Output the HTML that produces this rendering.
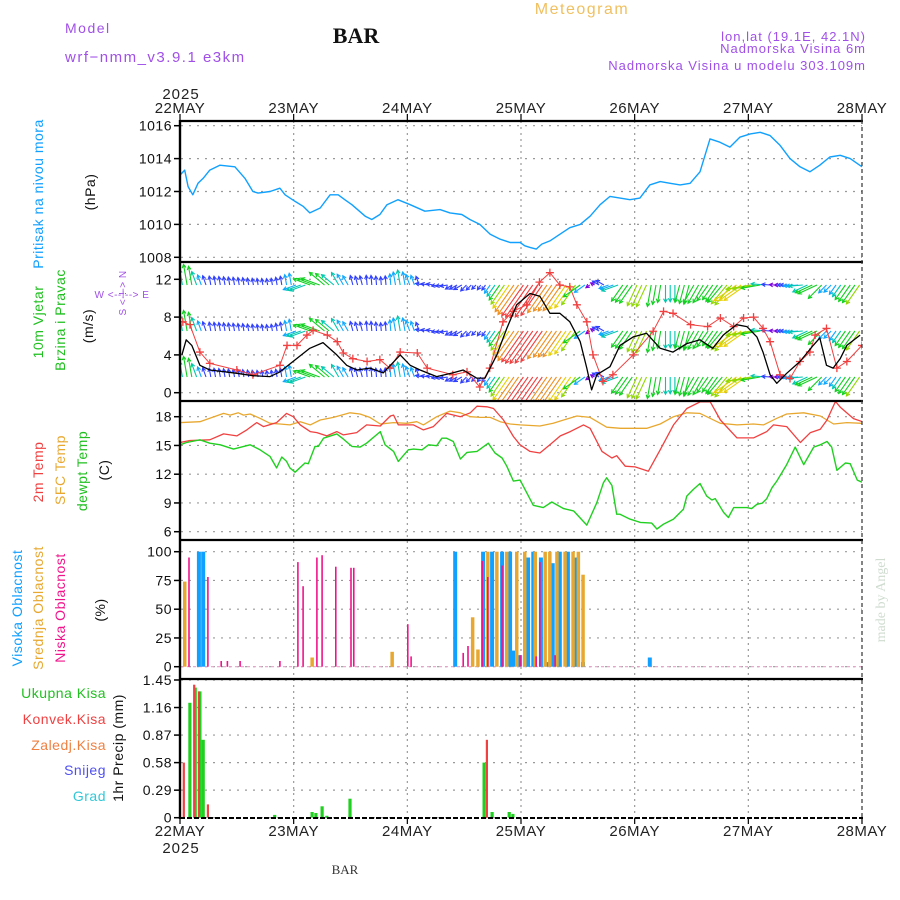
<!DOCTYPE html>
<html><head><meta charset="utf-8"><style>
html,body{margin:0;padding:0;background:#fff;}
svg{display:block;font-family:"Liberation Sans",sans-serif;}
</style></head><body>
<svg id="chart" width="900" height="900" viewBox="0 0 900 900" xmlns="http://www.w3.org/2000/svg">
<defs><clipPath id="windClip"><rect x="181" y="263" width="681" height="137"/></clipPath>
<clipPath id="tempClip"><rect x="181" y="402" width="681" height="137"/></clipPath></defs>
<text x="65" y="33" font-size="14" fill="#a050e8" letter-spacing="1.5">Model</text>
<text x="65" y="62" font-size="15" fill="#a050e8" letter-spacing="1.5">wrf−nmm_v3.9.1 e3km</text>
<text x="356" y="43" font-size="22" font-weight="bold" font-family="Liberation Serif, serif" text-anchor="middle" fill="#111">BAR</text>
<text x="582" y="14" font-size="16" fill="#f0c060" text-anchor="middle" letter-spacing="1.5">Meteogram</text>
<text x="866" y="41" font-size="13" fill="#a050e8" text-anchor="end" letter-spacing="1">lon,lat (19.1E, 42.1N)</text>
<text x="866" y="53" font-size="13" fill="#a050e8" text-anchor="end" letter-spacing="1">Nadmorska Visina 6m</text>
<text x="866" y="70" font-size="13" fill="#a050e8" text-anchor="end" letter-spacing="1">Nadmorska Visina u modelu 303.109m</text>
<text x="181" y="99" font-size="15" fill="#222" text-anchor="middle" letter-spacing="1">2025</text>
<text x="181" y="853" font-size="15" fill="#222" text-anchor="middle" letter-spacing="1">2025</text>
<text x="345" y="874" font-size="13" font-family="Liberation Serif, serif" text-anchor="middle" fill="#333">BAR</text>
<text transform="translate(885,600) rotate(-90)" font-size="14" font-family="Liberation Serif, serif" text-anchor="middle" fill="#d0dcd0">made by Angel</text>

<g font-size="14" letter-spacing="0.5">
<text transform="translate(43,194) rotate(-90)" text-anchor="middle" fill="#10a0ff">Pritisak na nivou mora</text>
<text transform="translate(95,192) rotate(-90)" text-anchor="middle" fill="#111">(hPa)</text>
<text transform="translate(43,322) rotate(-90)" text-anchor="middle" fill="#20c020">10m Vjetar</text>
<text transform="translate(65,320) rotate(-90)" text-anchor="middle" fill="#20c020">Brzina i Pravac</text>
<text transform="translate(93,326) rotate(-90)" text-anchor="middle" fill="#111">(m/s)</text>
<text transform="translate(126,293) rotate(-90)" text-anchor="middle" fill="#a050e8" font-size="10">S &lt;-!-&gt; N</text>
<text x="122" y="298" text-anchor="middle" fill="#a050e8" font-size="10">W  &lt;--!--&gt;  E</text>
<text transform="translate(43,472) rotate(-90)" text-anchor="middle" fill="#f04040">2m Temp</text>
<text transform="translate(65,470) rotate(-90)" text-anchor="middle" fill="#e8a830">SFC Temp</text>
<text transform="translate(87,471) rotate(-90)" text-anchor="middle" fill="#20c020">dewpt Temp</text>
<text transform="translate(109,470) rotate(-90)" text-anchor="middle" fill="#111">(C)</text>
<text transform="translate(22,608) rotate(-90)" text-anchor="middle" fill="#10a0ff">Visoka Oblacnost</text>
<text transform="translate(43,608) rotate(-90)" text-anchor="middle" fill="#e8a830">Srednja Oblacnost</text>
<text transform="translate(65,608) rotate(-90)" text-anchor="middle" fill="#f0148c">Niska Oblacnost</text>
<text transform="translate(105,610) rotate(-90)" text-anchor="middle" fill="#111">(%)</text>
<text x="106" y="698" text-anchor="end" fill="#20c020">Ukupna Kisa</text>
<text x="106" y="724" text-anchor="end" fill="#f04040">Konvek.Kisa</text>
<text x="106" y="750" text-anchor="end" fill="#f08040">Zaledj.Kisa</text>
<text x="106" y="775" text-anchor="end" fill="#5050f0">Snijeg</text>
<text x="106" y="801" text-anchor="end" fill="#30c8d8">Grad</text>
<text transform="translate(123,748) rotate(-90)" text-anchor="middle" fill="#111">1hr Precip (mm)</text>
</g>
<g id="plot"></g>
</svg>
<script>
// ---------- data ----------
const dayLabels = ["22MAY","23MAY","24MAY","25MAY","26MAY","27MAY","28MAY"];
const presHours = [0,1,1.7,2.7,3.8,4.9,6.3,8.4,11.6,13.7,15.4,16.5,19,21.1,22.2,24.3,26,27.4,29.6,31.7,33.4,34.8,36.3,39.1,40.5,42.2,43.7,46,48.6,51.7,54.9,57,59.5,61.2,63.3,65.5,67.6,69.7,71.8,72.8,73.9,75.2,76.4,78.1,80.2,82.3,84.5,86.6,88.7,90.8,92.9,95,97.1,99.2,101.4,103.5,105.6,107.7,109.8,111.9,114,116.1,118.2,120.4,122.5,124.6,126.7,128.8,130.9,133,135.1,137.2,139.4,141.5,144];
const presVals = [1013,1013.3,1012.3,1011.8,1012.5,1012.8,1013.3,1013.6,1013.5,1012.8,1012,1011.9,1012,1012.2,1011.8,1011.4,1011.1,1010.7,1011,1011.8,1011.8,1011.5,1011.2,1010.5,1010.3,1010.6,1011.2,1011.5,1011.2,1010.8,1010.9,1010.7,1010.6,1010.3,1010,1009.4,1009.1,1008.9,1008.9,1008.7,1008.6,1008.5,1008.8,1009,1009.4,1009.8,1010,1010.5,1011.2,1011.7,1011.6,1011.5,1011.6,1012.4,1012.6,1012.5,1012.4,1012.5,1013.2,1015.2,1015,1014.7,1015.3,1015.5,1015.6,1015.4,1014.8,1014,1013.5,1013.2,1013.6,1014.1,1014.2,1014,1013.5];
const presTicks = [1008,1010,1012,1014,1016];

const windHours = [0.4,1.3,2.5,4.2,6.3,12,15.4,19,21.1,24.6,27.4,30.2,33.1,35.2,37.3,40.1,42.9,46.5,48.6,50.7,54.2,57.6,59.8,62.6,64.4,66.9,69,71.1,73.9,76,78.1,80.2,82.3,84.5,85.9,86.9,88,90.8,92.9,95.7,98.5,101.4,104.1,107,109.8,112.5,114.7,117.5,119.7,121.8,123.1,124.6,126,128.1,130.9,133.7,135.1,136.5,137.9,139.4,140.8,143.6];
const windSpeed = [4.0,5.6,5.0,2.9,2.4,2.05,1.8,1.7,2.2,3.6,4.7,5.3,4.0,2.9,2.4,2.6,2.1,4.0,2.9,2.4,1.7,2.1,2.4,1.55,1.55,4.0,6.8,9.3,10.5,10.2,8.4,8.4,7.5,5.4,2.6,0.3,1.9,2.75,5.0,5.9,6.3,4.7,4.3,5.2,5.6,4.7,6.1,7.2,7.0,5.9,4.3,1.9,1.0,2.05,3.3,5.0,5.8,2.9,2.6,3.6,5.0,6.1];
const gustHours = [0.6,2.1,4.2,6.3,12,15.4,21.1,22.6,24.7,26.8,28.1,31.1,33.2,34.5,36.5,39.5,42.2,44.3,46.5,50.1,52.2,57.6,60.6,63.3,65.4,68.2,70.3,73.2,75.9,78.1,80.2,82.3,83.8,85.9,87.2,89.3,91.4,95.7,99.9,102.1,104.1,107.8,111.4,114.1,116.9,119,121.1,123.1,124.6,126.7,128.8,130.9,133,134.1,136.5,138.7,140.8,144];
const gustVals = [7.5,7.2,4.3,3.1,2.4,1.9,2.9,5.0,5.0,6.1,6.6,6.1,5.4,4.2,3.6,3.3,3.5,2.6,4.3,4.2,2.6,1.9,2.2,0.6,2.6,7.5,8.6,9.3,11.7,12.7,11.4,11.2,9.3,7.5,4.0,1.2,1.9,4.0,6.5,8.6,8.4,7.2,7.0,7.9,7.0,7.9,8.0,6.8,5.4,1.9,1.5,3.3,4.3,6.1,6.8,2.6,3.3,5.0];
const windDir = [350,340,350,350,350,350,350,350,250,290,310,330,345,355,355,350,340,280,260,240,225,215,215,215,215,215,215,215,235,300,250,215,205,190,180,195,210,215,220,235,260,275,270,265,245,225,215,215];
const windTicks = [0,4,8,12];

const t2Hours = [0,2.1,6.3,9.2,12,14.1,16.2,17.6,20.4,22.5,23.9,25.4,27.5,28.9,31,33.1,34.5,37.3,39.4,42.3,44.4,45.1,46.1,49.3,51.4,53.5,56.3,59.2,61.3,62.7,64.8,66.2,68.3,70.4,71.8,73.9,76,78.1,80.3,82.4,85.2,86.6,89.1,91.2,92.2,94,96.1,98.9,101.4,104.2,107,109.8,111.9,114.1,117.6,121.1,123.9,125.3,128.1,131,133.1,135.2,136.6,138.4,139.4,142.2,144];
const t2Vals = [15.31,15.52,15.59,16.21,16,16.62,17.38,16.97,17.38,18.34,18,17.14,16.45,16.34,16,16.45,16.1,16.34,17.14,17.03,18.07,18.17,17.14,17.14,16.62,16.97,18.34,18,18.41,19.1,19.03,18.86,17.66,15.93,15.07,14.38,14.21,15.07,16,16.45,17.14,16.79,14.38,13.69,13.93,12.83,12.76,12.31,14.55,17.14,18.86,19.55,19.6,17.66,15.79,15.79,16.45,17.14,16.97,15.31,16.34,16.69,17.66,19.6,19,17.8,17.5];
const sfcHours = [0,4.2,6.3,9.2,10.6,12.3,13.4,14.8,16.9,19,21.1,23.2,25.4,27.5,29.6,32.4,35.9,38,40.1,42.3,45.1,47.9,50,51.4,54.2,57,59.2,61.3,63.4,65.5,67.6,69.7,71.8,76,78.8,81,83.8,86.6,90.1,93,98.6,101.4,104.2,107,109.8,114.1,117.6,121.1,123.2,126,128.1,131.7,135.2,138,140.8,144];
const sfcVals = [17.38,17.48,17.83,18.34,18.17,18.41,18.17,18.28,17.83,17.31,17.24,17.14,17.48,17.14,17.66,17.93,18.41,18.28,17.93,17.24,17.38,17.31,17.48,17.14,18,18.59,18.41,18,17.93,17.93,17.48,17.24,17.14,17.03,17.31,17.66,18.07,17.93,16.9,16.79,16.79,17.24,18,18.41,18.34,17.31,17.14,17.24,17.14,17.83,18.28,18.41,18.07,17.24,17.38,17.31];
const dewHours = [0,1.4,4.2,6.3,8.5,11.3,14.8,16.9,19,20.4,21.5,22.5,23.2,24.3,26.4,27.1,28.5,29.2,30.3,33.1,34.5,36.3,38,39.4,42.3,43.3,45.1,46.1,48.2,49.3,51.1,52.5,54.2,55.3,56.3,57.7,59.2,60.6,62.7,65.1,66.5,68,69,70.4,71.8,73.2,74.6,76.7,78.5,81,83.1,85.9,88,89.4,90.1,91.2,92.2,92.9,95,97.2,99.6,100.7,102.1,104.2,106.3,107,108.4,109.8,111.2,112.3,113,114.8,115.8,116.9,119.7,120.7,121.8,122.9,123.9,125,126,128.1,129.9,131.7,133.8,135.2,136.6,137.6,138.7,140.5,141.5,143,144];
const dewVals = [15.07,15.31,15.59,15.24,15.07,14.62,15.07,14.55,13.86,12.66,13.79,13.34,12.66,12.21,13.17,13.1,14.9,14.9,15.76,16.21,15.66,14.9,14.83,15.24,16.45,15.07,14.38,13.34,14.55,14.62,14.55,15.07,14.97,15.76,15.76,15.41,13.59,14.28,14.38,15.24,14.21,13.69,12.83,11.28,11.38,10.07,8.76,8.52,9.1,8.41,8.17,6.69,9.03,11.1,11.62,10.83,7.83,7.83,7.31,6.97,6.9,6.28,6.79,7.31,8.34,9.72,10.41,11.03,9.72,9.31,9.45,8,7.48,8.52,8.52,8.41,8.86,8.97,9.45,10.59,11.28,13,14.83,13,14.83,15.07,15.41,14.83,12.41,13.17,13.1,11.38,11.17];
const tempTicks = [6,9,12,15,18];

const cloudHighHours = [4,4.9,58.1,64,65.9,68,69.7,70.5,71.8,73.5,74.6,76.2,77.4,78.7,80.2,81.9,83.4,85.1,99.2];
const cloudHighVals = [100,100,100,100,100,100,100,14,10,95,100,95,4,90,100,100,95,4,8];
const cloudMidHours = [1,27.9,44.8,61.8,62.9,65,66.9,69,71.1,72.8,75,77.1,78.1,79.6,81.3,83,84.1,85.1];
const cloudMidVals = [74,8,13,43,15,100,100,100,100,100,100,100,100,100,100,100,100,80];
const cloudLowHours = [1.9,5.9,8.7,10,12.7,21.1,24.9,26,28.9,30,32.9,36.1,36.7,48.1,48.8,59.8,60.8,63.8,65,68,71.8,75.2,76,79.2];
const cloudLowVals = [95,78,5,5,5,5,91,70,95,97,87,86,86,37,9,12,18,92,78,88,10,9,91,10];
const cloudTicks = [0,25,50,75,100];

const rainTotalHours = [2.1,3.2,4.2,4.9,20,27.9,28.7,30,31,35.9,64.2,65.9,69.5,70.3];
const rainTotalVals = [1.21,1.37,1.33,0.82,0.03,0.06,0.05,0.12,0.02,0.2,0.58,0.06,0.06,0.04];
const rainConvHours = [0.8,3,4,5.9,64.8];
const rainConvVals = [0.58,1.4,1.33,0.14,0.82];
const precipTicks = ["0","0.29","0.58","0.87","1.16","1.45"];

// ---------- scales ----------
const X0=180, X1=862, NH=144;
const X = h => X0 + h*(X1-X0)/NH;
const yP = v => 257.3 - (v-1008)*(131.6/8);
const yW = v => 392.7 - v*9.45;
const yT = v => 531.7 - (v-6)*9.583;
const yC = v => 666.7 - v*1.15;
const yR = v => 817.7 - v*94.97;

const NS="http://www.w3.org/2000/svg";
const plot=document.getElementById('plot');
function mk(tag, attrs, parent){const e=document.createElementNS(NS,tag);for(const k in attrs)e.setAttribute(k,attrs[k]);(parent||plot).appendChild(e);return e;}

const panels=[{t:121,b:262,ticks:presTicks,f:yP,name:'pressure',lab:v=>String(v)},
 {t:262,b:401,ticks:windTicks,f:yW,name:'wind',lab:v=>String(v)},
 {t:401,b:540,ticks:tempTicks,f:yT,name:'temp',lab:v=>String(v)},
 {t:540,b:679,ticks:cloudTicks,f:yC,name:'cloud',lab:v=>String(v)},
 {t:679,b:818,ticks:precipTicks.map(Number),f:yR,name:'precip',lab:v=>precipTicks[precipTicks.map(Number).indexOf(v)]}];
const grid=mk('g',{});


for(let d=1; d<dayLabels.length-1; d++){
  const l=mk('line',{x1:X(d*24),x2:X(d*24),y1:121,y2:818,stroke:'#999','stroke-width':1.2,'stroke-dasharray':'2,4'},grid);
  
  
}
panels.forEach(p=>{
  p.ticks.forEach(v=>{
    const y=p.f(v);
    const g=mk('line',{x1:181,x2:862,y1:y,y2:y,stroke:'#999','stroke-width':1.2,'stroke-dasharray':'2,6'},grid);
    
    
    const tk=mk('line',{x1:174,x2:180,y1:y,y2:y,stroke:'#000','stroke-width':1.5});
    
    
    const t=mk('text',{x:172,y:y+5,'text-anchor':'end','font-size':14,fill:'#111','letter-spacing':'0.5'});
    t.textContent=p.lab(v);
    
    
  });
});
dayLabels.forEach((d,i)=>{
  const x=X(i*24);
  [[108,114,121],[831,818,824]].forEach(([ty,a,b])=>{
    const t=mk('text',{x:x,y:ty+5,'text-anchor':'middle','font-size':15,fill:'#222','letter-spacing':'0.5'});
    t.textContent=d;
    
    
    const tk=mk('line',{x1:x,x2:x,y1:a,y2:b,stroke:'#000','stroke-width':1.2});
    
    
  });
});

function line(hs, vs, f, color, w, name, clip){
  const p=mk('polyline',{points:hs.map((h,i)=>X(h).toFixed(1)+','+f(vs[i]).toFixed(1)).join(' '),fill:'none',stroke:color,'stroke-width':w,'stroke-linejoin':'round'});
  if(clip) p.setAttribute('clip-path','url(#'+clip+')');
  
  
  return p;
}
line(presHours,presVals,yP,'#10a0ff',1.4,'pressure-line');

function interp(hs,vs,h){ if(h<=hs[0])return vs[0]; for(let i=1;i<hs.length;i++){ if(h<=hs[i]){const t=(h-hs[i-1])/(hs[i]-hs[i-1]);return vs[i-1]+t*(vs[i]-vs[i-1]);} } return vs[vs.length-1]; }
function spdColor(s){
  const stops=[[0,'#8000e0'],[1.5,'#3040ff'],[2.6,'#10a8ff'],[3.6,'#00c8b0'],[4.6,'#10d020'],[6.0,'#90d800'],[7.0,'#e8d000'],[8.2,'#f09020'],[9.5,'#f04040'],[12,'#f0107a']];
  let c=stops[0][1]; for(const s2 of stops){ if(s>=s2[0]) c=s2[1]; } return c;
}
const arrows=mk('g',{'clip-path':'url(#windClip)'});


[285,331,377].forEach(base=>{
  for(let h=0; h<NH; h++){
    const s=interp(windHours,windSpeed,h+0.5);
    const d=windDir[Math.floor(h/3)]*Math.PI/180;
    const L=Math.max(3,s*3.8);
    const x0=X(h+0.5), x1=x0+Math.sin(d)*L, y1=base-Math.cos(d)*L;
    const c=spdColor(s);
    const a=mk('path',{d:`M${x0.toFixed(1)},${base} L${x1.toFixed(1)},${y1.toFixed(1)} M${(x1-Math.sin(d-0.5)*4).toFixed(1)},${(y1+Math.cos(d-0.5)*4).toFixed(1)} L${x1.toFixed(1)},${y1.toFixed(1)} L${(x1-Math.sin(d+0.5)*4).toFixed(1)},${(y1+Math.cos(d+0.5)*4).toFixed(1)}`,stroke:c,'stroke-width':1.1,fill:'none'},arrows);
    
    
  }
});
line(gustHours,gustVals,yW,'#f04040',1,'gust-line','windClip');
gustHours.forEach((h,i)=>{
  const x=X(h), y=yW(gustVals[i]);
  const m=mk('path',{d:`M${x-4},${y} H${x+4} M${x},${y-4} V${y+4}`,stroke:'#f04040','stroke-width':1.3,'clip-path':'url(#windClip)'});
  
  
});
line(windHours,windSpeed,yW,'#000',1.3,'wind-speed-line','windClip');

line(sfcHours,sfcVals,yT,'#e8a830',1.3,'sfc-temp-line','tempClip');
line(t2Hours,t2Vals,yT,'#f04040',1.3,'temp-2m-line','tempClip');
line(dewHours,dewVals,yT,'#20d020',1.4,'dewpoint-line','tempClip');

const base0=mk('line',{x1:181,x2:862,y1:yC(0),y2:yC(0),stroke:'#e8a0c8','stroke-width':1.2,'stroke-dasharray':'3,3'});


function bars(hs,vs,f,color,w,name){
  hs.forEach((h,i)=>{
    const y=f(vs[i]), y0=f(0);
    const r=mk('rect',{x:(X(h)-w/2).toFixed(1),y:y.toFixed(1),width:w,height:Math.max(0.5,y0-y).toFixed(1),fill:color});
    
    
  });
}
bars(cloudHighHours,cloudHighVals,yC,'#10a0ff',4,'cloud-high-bar');
bars(cloudMidHours,cloudMidVals,yC,'#e8a830',3.5,'cloud-mid-bar');
bars(cloudLowHours,cloudLowVals,yC,'#f0148c',1.6,'cloud-low-bar');

bars(rainTotalHours,rainTotalVals,yR,'#20d020',3.2,'precip-total-bar');
bars(rainConvHours,rainConvVals,yR,'#f04040',2.2,'precip-convective-bar');

const fr=mk('g',{});


[121,262,401,540,679].forEach(y=>mk('line',{x1:180,x2:863,y1:y,y2:y,stroke:'#000','stroke-width':2.2},fr));
mk('line',{x1:180,x2:863,y1:818,y2:818,stroke:'#000','stroke-width':2,'stroke-dasharray':'5,2'},fr);
mk('line',{x1:180,x2:180,y1:120,y2:819,stroke:'#000','stroke-width':2.4},fr);
mk('line',{x1:862,x2:862,y1:120,y2:819,stroke:'#333','stroke-width':1.2,'stroke-dasharray':'4,3'},fr);
</script>
</body></html>
